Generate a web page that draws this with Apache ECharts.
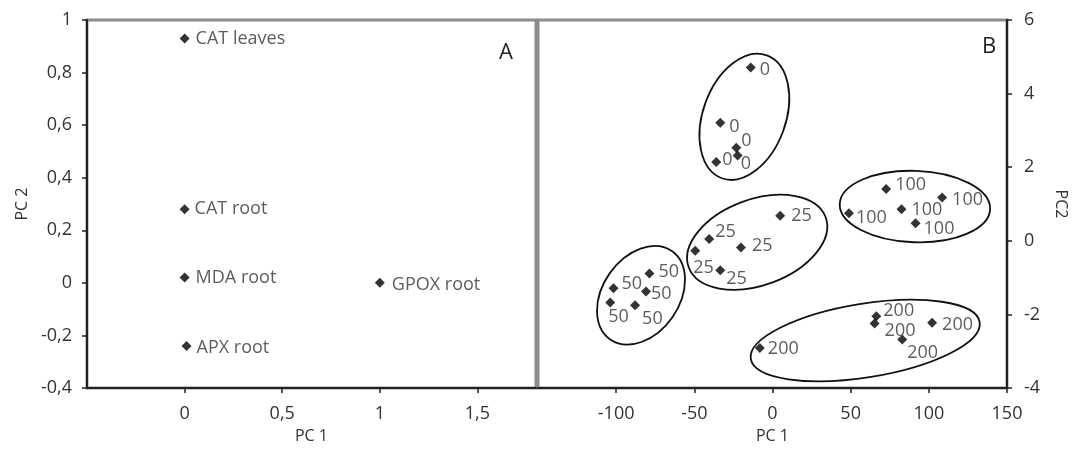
<!DOCTYPE html>
<html>
<head>
<meta charset="utf-8">
<script src="https://cdn.jsdelivr.net/npm/echarts@6/dist/echarts.min.js"></script>
<style>
  html, body { margin: 0; padding: 0; background: #fff; }
  #chart { width: 1073px; height: 449px; }
</style>
</head>
<body>
<div id="chart"></div>
<script>
// panel A: loadings
const varNames = ["CAT leaves", "CAT root", "MDA root", "APX root", "GPOX root"];
const loadPC1 = [0, 0, 0, 0.01, 1];
const loadPC2 = [0.93, 0.28, 0.02, -0.24, 0];

// panel B: scores per NaCl level
const levels = ["0", "25", "50", "100", "200"];
const pc1_0 = [-13.9, -33.4, -23.2, -22.3, -36.0];
const pc2_0 = [4.71, 3.21, 2.53, 2.32, 2.14];
const pc1_25 = [4.9, -40.5, -49.4, -20.2, -33.4];
const pc2_25 = [0.68, 0.05, -0.27, -0.18, -0.8];
const pc1_50 = [-78.7, -101.7, -80.9, -103.8, -87.9];
const pc2_50 = [-0.89, -1.29, -1.38, -1.68, -1.75];
const pc1_100 = [72.7, 108.5, 82.5, 91.5, 48.9];
const pc2_100 = [1.41, 1.18, 0.86, 0.48, 0.75];
const pc1_200 = [66.4, 65.3, 102.1, 83.0, -8.1];
const pc2_200 = [-2.05, -2.25, -2.23, -2.68, -2.91];

// group ellipses (data units): centre, end of long axis, end of short axis
const ellipseCentre = [[-18.0, 3.37], [-9.8, -0.04], [-84.1, -1.48], [91.1, 0.93], [59.3, -2.71]];
const ellipseMajorEnd = [[-3.6, 5.04], [34.0, 0.64], [-64.4, -0.28], [139.2, 0.86], [132.5, -2.21]];
const ellipseMinorEnd = [[6.8, 2.98], [-0.5, -1.14], [-64.1, -2.08], [90.3, -0.04], [63.1, -3.7]];

// tick labels
const xTicksA = [0, 0.5, 1, 1.5];
const yTicksA = [-0.4, -0.2, 0, 0.2, 0.4, 0.6, 0.8, 1];
const xTicksB = [-100, -50, 0, 50, 100, 150];
const yTicksB = [-4, -2, 0, 2, 4, 6];

// label nudges in px (from point centre), kept apart from the values
const nudgeA = [[11, 0], [10, 0], [11, 0], [10, 2], [12, 2]];
const nudgeB = [
  [[9, 2], [9, 4], [5, -7], [3, 8], [6, -2]],
  [[11, 0], [6, -7], [-2, 17], [11, -2], [6, 9]],
  [[9, -2], [8, -4], [5, 2], [-2, 14], [7, 14]],
  [[9, -4], [10, 2], [10, 1], [8, 6], [7, 5]],
  [[7, -5], [10, 7], [10, 2], [5, 13], [8, 1]],
];
const pc1B = [pc1_0, pc1_25, pc1_50, pc1_100, pc1_200];
const pc2B = [pc2_0, pc2_25, pc2_50, pc2_100, pc2_200];

const FONT = "Open Sans";
const TXT = "#333";
const AXIS = "#222";
const SYM = 10;

const comma = (v) => String(+v.toFixed(2)).replace(".", ",");

const pointData = (xs, ys, names, nudges) =>
  xs.map((x, i) => ({
    value: [x, ys[i]],
    label: {
      formatter: names[i],
      offset: [nudges[i][0] - SYM / 2, nudges[i][1]],
    },
  }));

const scatterStyle = {
  type: "scatter",
  symbol: "diamond",
  symbolSize: SYM,
  itemStyle: { color: "#000" },
  label: {
    show: true,
    position: "right",
    distance: 0,
    color: TXT,
    fontFamily: FONT,
    fontSize: 18,
  },
  emphasis: { disabled: true },
  silent: true,
};

const axisCommon = {
  type: "value",
  axisLine: { show: true, onZero: false, lineStyle: { color: AXIS, width: 2 } },
  axisTick: { show: true, inside: false, length: 5, lineStyle: { color: AXIS, width: 1.5 } },
  splitLine: { show: false },
  axisLabel: { color: TXT, fontFamily: FONT, fontSize: 18, formatter: comma },
  nameTextStyle: { color: TXT, fontFamily: FONT, fontSize: 16 },
  nameLocation: "middle",
};

function renderEllipse(params, api) {
  const c = api.coord([api.value(0), api.value(1)]);
  const m = api.coord([api.value(2), api.value(3)]);
  const n = api.coord([api.value(4), api.value(5)]);
  const rx = Math.hypot(m[0] - c[0], m[1] - c[1]);
  const ry = Math.hypot(n[0] - c[0], n[1] - c[1]);
  const angle = Math.atan2(c[1] - m[1], m[0] - c[0]);
  return {
    type: "ellipse",
    x: c[0],
    y: c[1],
    rotation: angle,
    shape: { cx: 0, cy: 0, rx: rx, ry: ry },
    style: { fill: null, stroke: "#111", lineWidth: 1.8 },
  };
}

const ellipseData = ellipseCentre.map((c, i) => [
  c[0], c[1],
  ellipseMajorEnd[i][0], ellipseMajorEnd[i][1],
  ellipseMinorEnd[i][0], ellipseMinorEnd[i][1],
]);

const chart = echarts.init(document.getElementById("chart"), null, { renderer: "canvas" });

chart.setOption({
  animation: false,
  backgroundColor: "#fff",
  grid: [
    { left: 87, top: 20, width: 449, height: 368, show: true, borderColor: "#8c8c8c", borderWidth: 3, backgroundColor: "transparent" },
    { left: 538, top: 20, width: 469, height: 368, show: true, borderColor: "#8c8c8c", borderWidth: 3, backgroundColor: "transparent" },
  ],
  xAxis: [
    {
      ...axisCommon,
      gridIndex: 0,
      min: -0.5,
      max: 1.8,
      name: "PC 1",
      nameGap: 40,
      axisTick: { ...axisCommon.axisTick, customValues: xTicksA },
      axisLabel: { ...axisCommon.axisLabel, margin: 17, customValues: xTicksA },
    },
    {
      ...axisCommon,
      gridIndex: 1,
      min: -150,
      max: 150,
      name: "PC 1",
      nameGap: 40,
      axisTick: { ...axisCommon.axisTick, customValues: xTicksB },
      axisLabel: { ...axisCommon.axisLabel, margin: 17, customValues: xTicksB },
    },
  ],
  yAxis: [
    {
      ...axisCommon,
      gridIndex: 0,
      min: -0.4,
      max: 1,
      name: "PC 2",
      nameGap: 57,
      nameRotate: 90,
      axisTick: { ...axisCommon.axisTick, customValues: yTicksA },
      axisLabel: { ...axisCommon.axisLabel, margin: 15, customValues: yTicksA },
    },
    {
      ...axisCommon,
      gridIndex: 1,
      position: "right",
      min: -4,
      max: 6,
      name: "PC2",
      nameGap: 46,
      nameRotate: -90,
      axisTick: { ...axisCommon.axisTick, customValues: yTicksB },
      axisLabel: { ...axisCommon.axisLabel, margin: 17, customValues: yTicksB },
    },
  ],
  graphic: [
    { type: "text", x: 506, y: 53, style: { text: "A", fill: "#222", font: "22px 'Open Sans'", align: "center", verticalAlign: "middle" } },
    { type: "text", x: 989, y: 47, style: { text: "B", fill: "#222", font: "22px 'Open Sans'", align: "center", verticalAlign: "middle" } },
  ],
  series: [
    {
      ...scatterStyle,
      xAxisIndex: 0,
      yAxisIndex: 0,
      data: pointData(loadPC1, loadPC2, varNames, nudgeA),
    },
    {
      type: "custom",
      xAxisIndex: 1,
      yAxisIndex: 1,
      renderItem: renderEllipse,
      clip: false,
      silent: true,
      encode: { x: [0, 2, 4], y: [1, 3, 5] },
      data: ellipseData,
    },
    ...levels.map((lv, g) => ({
      ...scatterStyle,
      name: lv,
      xAxisIndex: 1,
      yAxisIndex: 1,
      data: pointData(pc1B[g], pc2B[g], pc1B[g].map(() => lv), nudgeB[g]),
    })),
  ],
});

window.addEventListener("resize", function () {
  chart.resize();
});
</script>
</body>
</html>
